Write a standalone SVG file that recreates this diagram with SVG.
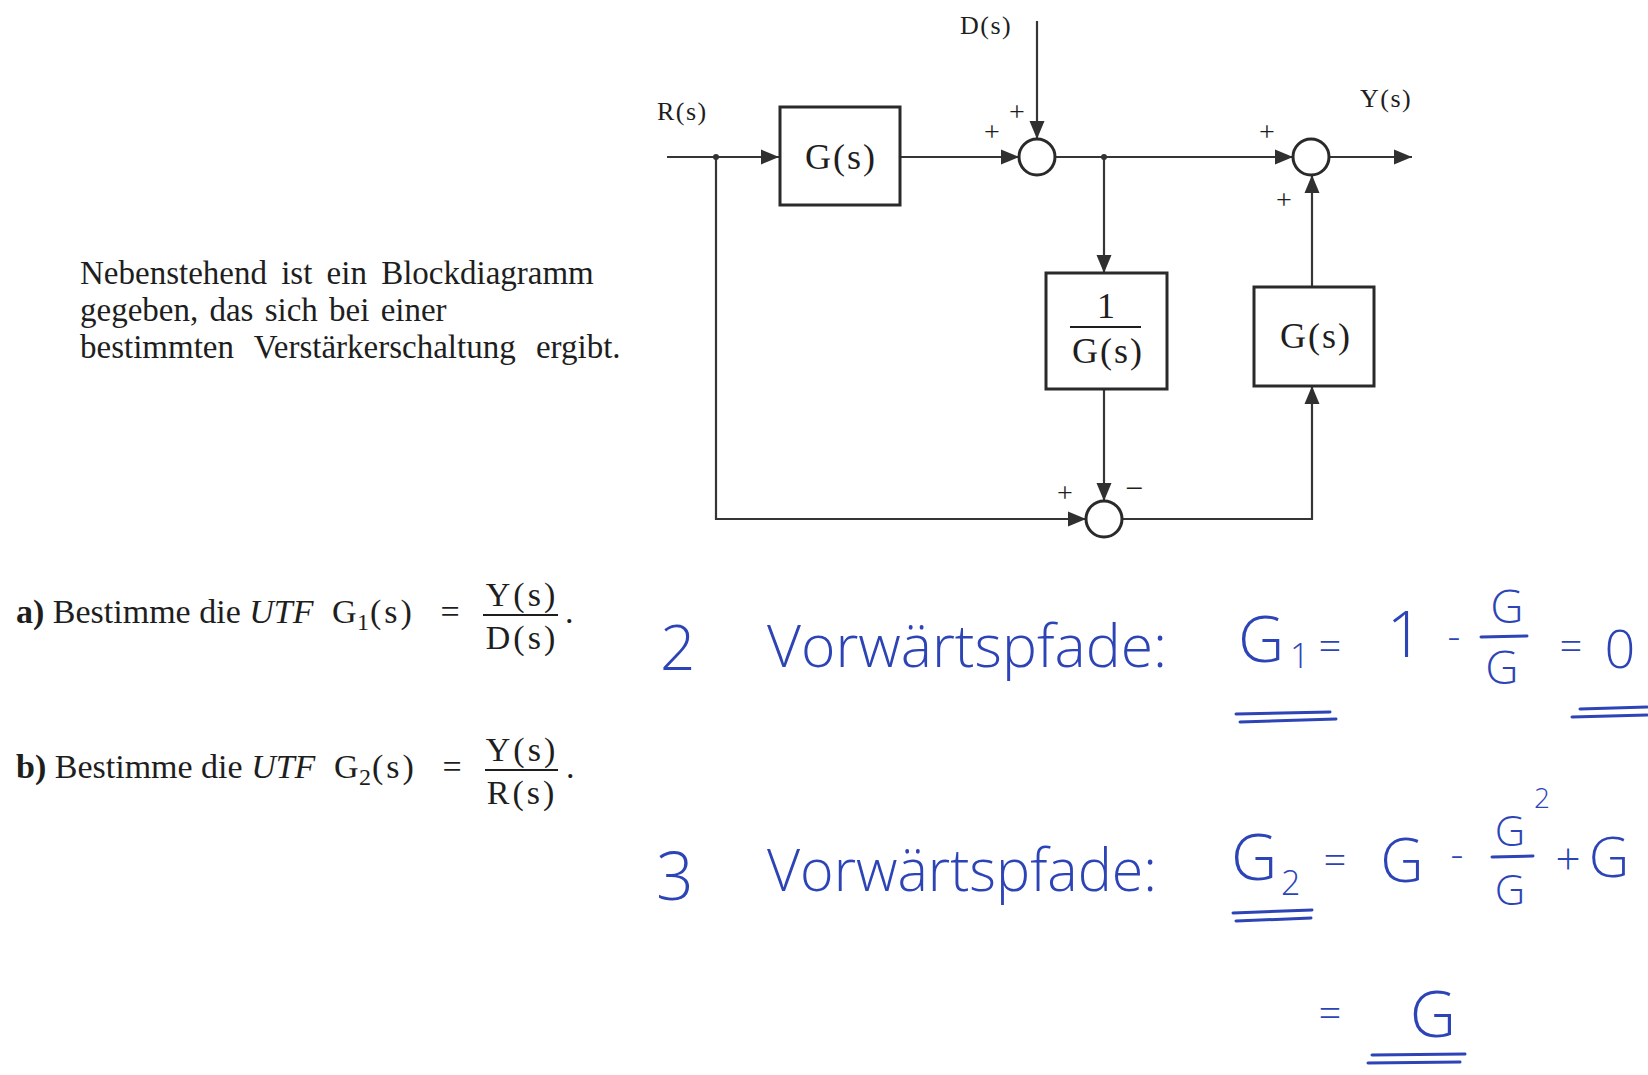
<svg xmlns="http://www.w3.org/2000/svg" width="1648" height="1075" viewBox="0 0 1648 1075">
<style>
.ln{fill:none;stroke:#353535;stroke-width:2.2}
.bx{fill:none;stroke:#2a2a2a;stroke-width:3}
.sm{fill:#fff;stroke:#2a2a2a;stroke-width:3}
.t{font-family:"Liberation Serif","Times New Roman",serif;fill:#1e1e1e}
.bt{font-size:36px;letter-spacing:2px}
.lb{font-size:26px;letter-spacing:1.5px}
.pm{font-size:28px}
.hw{font-family:"Open Sans","DejaVu Sans",sans-serif;font-weight:300;fill:#2c44b6}
.ul{fill:none;stroke:#2c44b6;stroke-width:3;stroke-linecap:round}
</style>
<defs>
<marker id="arr" markerUnits="userSpaceOnUse" markerWidth="20" markerHeight="16" refX="18" refY="8" orient="auto">
<path d="M0,0.5 L18,8 L0,15.5 z" fill="#303030"/>
</marker>
</defs>
<rect width="1648" height="1075" fill="#fff"/>

<g id="connectors">
<path class="ln" d="M667,157 H779" marker-end="url(#arr)"/>
<path class="ln" d="M900,157 H1019" marker-end="url(#arr)"/>
<path class="ln" d="M1037,21 V139" marker-end="url(#arr)"/>
<path class="ln" d="M1055,157 H1293" marker-end="url(#arr)"/>
<path class="ln" d="M1104,157 V273" marker-end="url(#arr)"/>
<path class="ln" d="M1104,389 V501" marker-end="url(#arr)"/>
<path class="ln" d="M716,157 V519 H1086" marker-end="url(#arr)"/>
<path class="ln" d="M1122,519 H1312 V386" marker-end="url(#arr)"/>
<path class="ln" d="M1312,287 V175" marker-end="url(#arr)"/>
<path class="ln" d="M1329,157 H1412" marker-end="url(#arr)"/>
<circle cx="716" cy="157" r="3" fill="#333"/>
<circle cx="1104" cy="157" r="3" fill="#333"/>
</g>

<g id="label-r"><text class="t lb" x="657" y="120">R(s)</text></g>
<g id="label-d"><text class="t lb" x="960" y="34">D(s)</text></g>
<g id="label-y"><text class="t lb" x="1360" y="107">Y(s)</text></g>

<g id="block-g1">
<rect class="bx" x="780" y="107" width="120" height="98"/>
<text class="t bt" x="841" y="169" text-anchor="middle">G(s)</text>
</g>

<g id="sum1">
<circle class="sm" cx="1037" cy="157" r="18"/>
<text class="t pm" x="1017" y="121" text-anchor="middle">+</text>
<text class="t pm" x="992" y="141" text-anchor="middle">+</text>
</g>

<g id="block-inv">
<rect class="bx" x="1046" y="273" width="121" height="116"/>
<text class="t" x="1106" y="318" text-anchor="middle" font-size="36">1</text>
<line x1="1070" y1="327" x2="1141" y2="327" stroke="#1e1e1e" stroke-width="2"/>
<text class="t bt" x="1108" y="363" text-anchor="middle">G(s)</text>
</g>

<g id="sum2">
<circle class="sm" cx="1311" cy="157" r="18"/>
<text class="t pm" x="1267" y="141" text-anchor="middle">+</text>
<text class="t pm" x="1284" y="209" text-anchor="middle">+</text>
</g>

<g id="block-g2">
<rect class="bx" x="1254" y="287" width="120" height="99"/>
<text class="t bt" x="1316" y="348" text-anchor="middle">G(s)</text>
</g>

<g id="sum3">
<circle class="sm" cx="1104" cy="519" r="18"/>
<text class="t pm" x="1065" y="502" text-anchor="middle">+</text>
<text class="t" x="1134" y="499" text-anchor="middle" font-size="32">−</text>
</g>

<g id="description">
<text class="t" font-size="33" word-spacing="6">
<tspan x="80" y="284">Nebenstehend ist ein Blockdiagramm</tspan>
<tspan x="80" y="321" word-spacing="3">gegeben, das sich bei einer</tspan>
<tspan x="80" y="358" word-spacing="12">bestimmten Verstärkerschaltung ergibt.</tspan>
</text>
</g>

<g id="question-a">
<text class="t" font-size="34" x="16" y="623"><tspan font-weight="bold">a)</tspan> Bestimme die <tspan font-style="italic">UTF</tspan></text>
<text class="t" font-size="34" x="332" y="623">G</text>
<text class="t" font-size="24" x="357" y="630">1</text>
<text class="t" font-size="34" x="370" y="623" letter-spacing="3">(s)</text>
<text class="t" font-size="34" x="450" y="623" text-anchor="middle">=</text>
<text class="t" font-size="34" x="522" y="606" text-anchor="middle" letter-spacing="3">Y(s)</text>
<line x1="483" y1="615" x2="558" y2="615" stroke="#1e1e1e" stroke-width="2"/>
<text class="t" font-size="34" x="522" y="649" text-anchor="middle" letter-spacing="3">D(s)</text>
<text class="t" font-size="34" x="565" y="623">.</text>
</g>

<g id="question-b">
<text class="t" font-size="34" x="16" y="778"><tspan font-weight="bold">b)</tspan> Bestimme die <tspan font-style="italic">UTF</tspan></text>
<text class="t" font-size="34" x="334" y="778">G</text>
<text class="t" font-size="24" x="359" y="785">2</text>
<text class="t" font-size="34" x="372" y="778" letter-spacing="3">(s)</text>
<text class="t" font-size="34" x="452" y="778" text-anchor="middle">=</text>
<text class="t" font-size="34" x="522" y="761" text-anchor="middle" letter-spacing="3">Y(s)</text>
<line x1="485" y1="770" x2="558" y2="770" stroke="#1e1e1e" stroke-width="2"/>
<text class="t" font-size="34" x="522" y="804" text-anchor="middle" letter-spacing="3">R(s)</text>
<text class="t" font-size="34" x="566" y="778">.</text>
</g>

<g id="handwriting-1">
<text class="hw" font-size="62" x="660" y="670">2</text>
<text class="hw" font-size="58" x="767" y="667" textLength="400" lengthAdjust="spacingAndGlyphs">Vorwärtspfade:</text>
<text class="hw" font-size="64" x="1238" y="662">G</text>
<text class="hw" font-size="34" x="1290" y="668">1</text>
<text class="hw" font-size="40" x="1330" y="660" text-anchor="middle">=</text>
<text class="hw" font-size="64" x="1405" y="657" text-anchor="middle">1</text>
<text class="hw" font-size="40" x="1454" y="650" text-anchor="middle">-</text>
<text class="hw" font-size="46" x="1507" y="623" text-anchor="middle">G</text>
<line class="ul" x1="1481" y1="637" x2="1527" y2="636"/>
<text class="hw" font-size="46" x="1502" y="684" text-anchor="middle">G</text>
<text class="hw" font-size="40" x="1571" y="660" text-anchor="middle">=</text>
<text class="hw" font-size="54" x="1620" y="668" text-anchor="middle">0</text>
<path class="ul" d="M1236,714 L1330,712 M1240,722 L1336,719"/>
<path class="ul" d="M1580,709 L1647,707 M1572,717 L1647,715"/>
</g>

<g id="handwriting-2">
<text class="hw" font-size="66" x="656" y="900">3</text>
<text class="hw" font-size="58" x="767" y="891" textLength="390" lengthAdjust="spacingAndGlyphs">Vorwärtspfade:</text>
<text class="hw" font-size="64" x="1231" y="880">G</text>
<text class="hw" font-size="34" x="1281" y="895">2</text>
<text class="hw" font-size="40" x="1335" y="874" text-anchor="middle">=</text>
<text class="hw" font-size="60" x="1402" y="882" text-anchor="middle">G</text>
<text class="hw" font-size="40" x="1457" y="868" text-anchor="middle">-</text>
<text class="hw" font-size="42" x="1510" y="846" text-anchor="middle">G</text>
<text class="hw" font-size="28" x="1542" y="808" text-anchor="middle">2</text>
<line class="ul" x1="1492" y1="857" x2="1533" y2="856"/>
<text class="hw" font-size="42" x="1510" y="905" text-anchor="middle">G</text>
<text class="hw" font-size="44" x="1568" y="875" text-anchor="middle">+</text>
<text class="hw" font-size="56" x="1609" y="877" text-anchor="middle">G</text>
<path class="ul" d="M1233,913 L1312,910 M1236,921 L1311,918"/>
<text class="hw" font-size="40" x="1330" y="1027" text-anchor="middle">=</text>
<text class="hw" font-size="64" x="1433" y="1037" text-anchor="middle">G</text>
<path class="ul" d="M1372,1055 L1465,1054 M1368,1063 L1460,1062"/>
</g>
</svg>
